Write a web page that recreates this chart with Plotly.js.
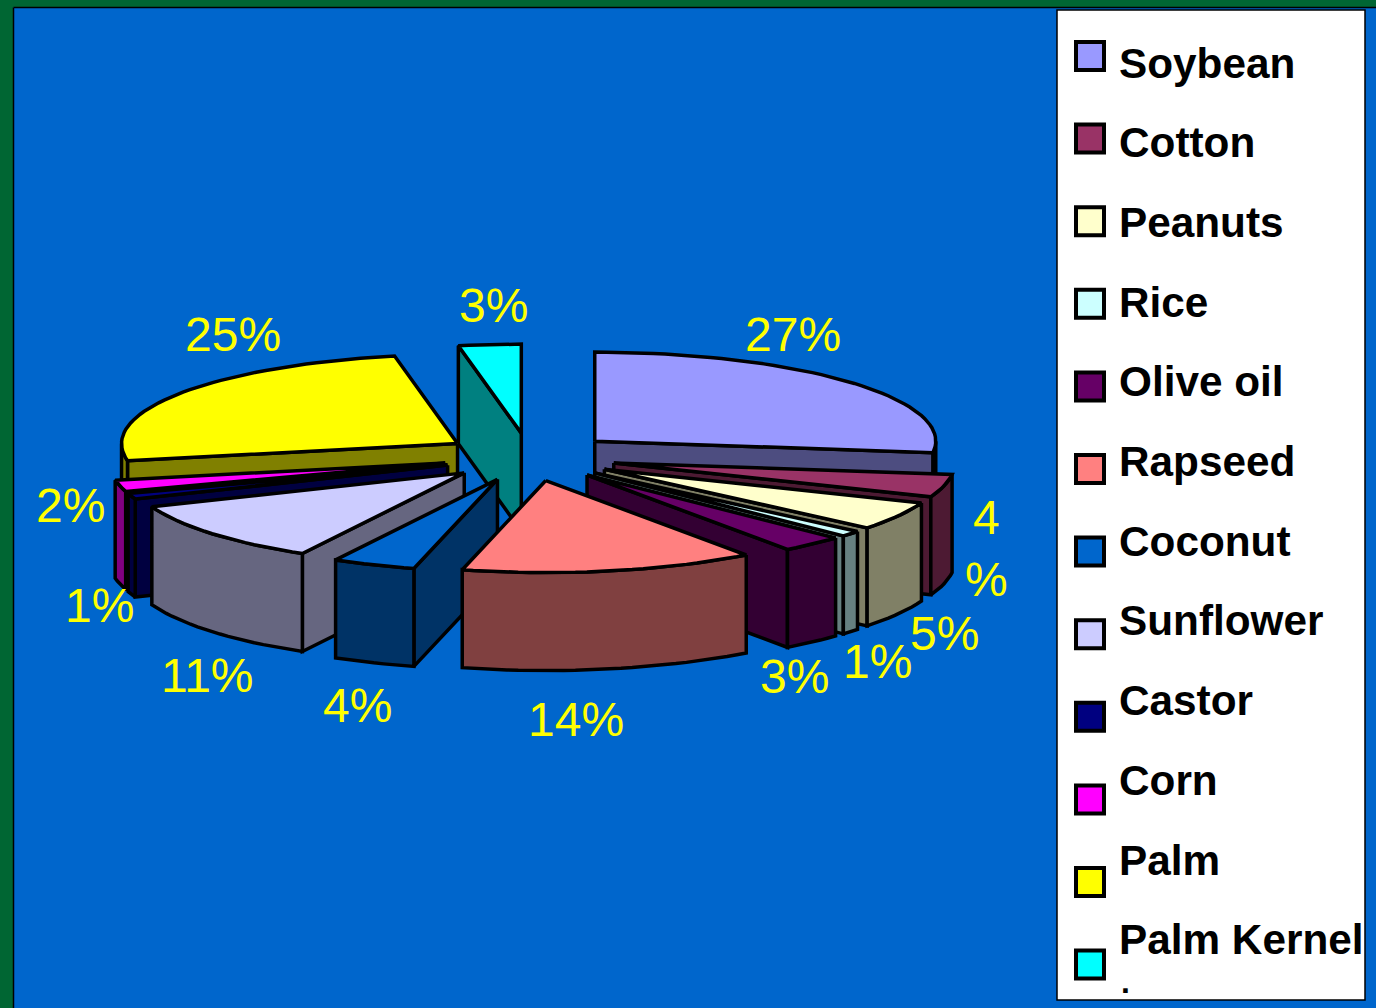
<!DOCTYPE html>
<html>
<head>
<meta charset="utf-8">
<script src="https://cdn.plot.ly/plotly-3.0.1.min.js"></script>
<style>html,body{margin:0;padding:0;overflow:hidden;background:#0066CC}</style>
</head>
<body>
<div id="chart" style="width:1376px;height:1008px"></div>
<script>
// Data
var categories = ["Soybean","Cotton","Peanuts","Rice","Olive oil","Rapseed","Coconut","Sunflower","Castor","Corn","Palm","Palm Kernel"];
var values = [27,4,5,1,3,14,4,11,1,2,25,3];
var colors = ["#9999FF","#993366","#FFFFCC","#CCFFFF","#660066","#FF8080","#0066CC","#CCCCFF","#000080","#FF00FF","#FFFF00","#00FFFF"];
var labelTexts = ["27%","4<br>%","5%","1%","3%","14%","4%","11%","1%","2%","25%","3%"];

// Layout of the drawing (not data)
var view = {cx:529.5, cy:457, rxRight:341, rxLeft:336, ryBack:89, ryFront:92, ex:87, ey:24, depth:98};
var labelX = [793,986,944,877,794,576,357,207,99,70,233,493];
var labelY = [334,548,633,661,676,719,705,675,605,505,334,305];
var legendBox = {x0:1057,x1:1365,y0:10,y1:1000,swatchX:1090,swatchY0:56,swatchStep:82.6,textX:1120,textY0:63,textStep:79.7};

function half(hex){
  var n=parseInt(hex.slice(1),16);
  var r=Math.round((n>>16&255)/2),g=Math.round((n>>8&255)/2),b=Math.round((n&255)/2);
  return "rgb("+r+","+g+","+b+")";
}
var total=values.reduce(function(a,b){return a+b;},0);
var slices=[],acc=0;
values.forEach(function(v,i){
  var a=acc/total*360, b=(acc+v)/total*360; acc+=v;
  var mid=(a+b)/2*Math.PI/180;
  slices.push({i:i,a:a,b:b,ax:view.cx+view.ex*Math.sin(mid),ay:view.cy-view.ey*Math.cos(mid),key:Math.cos(mid)});
});
slices.sort(function(p,q){return q.key-p.key;});

function rim(s,deg,drop){
  var t=deg*Math.PI/180,sn=Math.sin(t),cs=Math.cos(t);
  var rx=sn>=0?view.rxRight:view.rxLeft, ry=cs>=0?view.ryBack:view.ryFront;
  return [s.ax+rx*sn, s.ay-ry*cs+(drop||0)];
}
function arc(s,a,b,drop){
  var pts=[],n=Math.max(2,Math.ceil((b-a)/2));
  for(var k=0;k<=n;k++) pts.push(rim(s,a+(b-a)*k/n,drop));
  return pts;
}
function face(pts,fill){
  var xs=pts.map(function(p){return p[0];}),ys=pts.map(function(p){return p[1];});
  xs.push(xs[0]);ys.push(ys[0]);
  return {type:"scatter",mode:"lines",x:xs,y:ys,fill:"toself",fillcolor:fill,
    line:{color:"#000",width:3.5},hoverinfo:"skip",showlegend:false};
}
var traces=[];
slices.forEach(function(s){
  var col=colors[s.i],dark=half(col),d=view.depth,apex=[s.ax,s.ay],apexLow=[s.ax,s.ay+d];
  if(Math.sin(s.a*Math.PI/180)<-1e-6) traces.push(face([apex,rim(s,s.a),rim(s,s.a,d),apexLow],dark));
  if(Math.sin(s.b*Math.PI/180)>1e-6) traces.push(face([apex,rim(s,s.b),rim(s,s.b,d),apexLow],dark));
  var f0=Math.max(s.a,90),f1=Math.min(s.b,270);
  if(f1>f0) traces.push(face(arc(s,f0,f1,0).concat(arc(s,f0,f1,d).reverse()),dark));
  traces.push(face([apex].concat(arc(s,s.a,s.b,0)),col));
});
// legend swatches
traces.push({type:"scatter",mode:"markers",
  x:categories.map(function(){return legendBox.swatchX;}),
  y:categories.map(function(c,i){return legendBox.swatchY0+i*legendBox.swatchStep;}),
  marker:{symbol:"square",size:28,color:colors,line:{color:"#000",width:4}},
  hoverinfo:"skip",showlegend:false});

var annotations=[];
labelTexts.forEach(function(t,i){
  annotations.push({x:labelX[i],y:labelY[i],xref:"x",yref:"y",text:t,showarrow:false,xanchor:"center",yanchor:"middle",
    font:{family:"Liberation Sans",size:48,color:"#FFFF00"}});
});
categories.forEach(function(c,i){
  annotations.push({x:legendBox.textX,y:legendBox.textY0+i*legendBox.textStep,xref:"x",yref:"y",text:"<b>"+c+"</b>",showarrow:false,
    xanchor:"left",yanchor:"middle",xshift:-3,font:{family:"Liberation Sans",size:42.3,color:"#000"}});
});
annotations.push({x:1120,y:981.5,xref:"x",yref:"y",text:"<b>.</b>",showarrow:false,xanchor:"left",yanchor:"middle",xshift:-1,
  font:{family:"Liberation Sans",size:32,color:"#000"}});

var layout={width:1376,height:1008,margin:{l:0,r:0,t:0,b:0},paper_bgcolor:"#0066CC",plot_bgcolor:"#0066CC",showlegend:false,
  xaxis:{range:[0,1376],visible:false,fixedrange:true},
  yaxis:{range:[1008,0],visible:false,fixedrange:true},
  shapes:[
    {type:"rect",layer:"below",xref:"x",yref:"y",x0:0,x1:1376,y0:0,y1:7,fillcolor:"#006633",line:{width:0}},
    {type:"rect",layer:"below",xref:"x",yref:"y",x0:0,x1:13,y0:0,y1:1008,fillcolor:"#006633",line:{width:0}},
    {type:"line",layer:"below",xref:"x",yref:"y",x0:13.5,x1:1376,y0:7.5,y1:7.5,line:{color:"#000",width:1.5}},
    {type:"line",layer:"below",xref:"x",yref:"y",x0:13.5,x1:13.5,y0:7.5,y1:1008,line:{color:"#000",width:1.5}},
    {type:"rect",layer:"below",xref:"x",yref:"y",x0:legendBox.x0,x1:legendBox.x1,y0:legendBox.y0,y1:legendBox.y1,fillcolor:"#FFF",line:{color:"#000",width:1.5}}
  ],
  annotations:annotations};
Plotly.newPlot("chart",traces,layout,{displayModeBar:false,staticPlot:true});
</script>
</body>
</html>
